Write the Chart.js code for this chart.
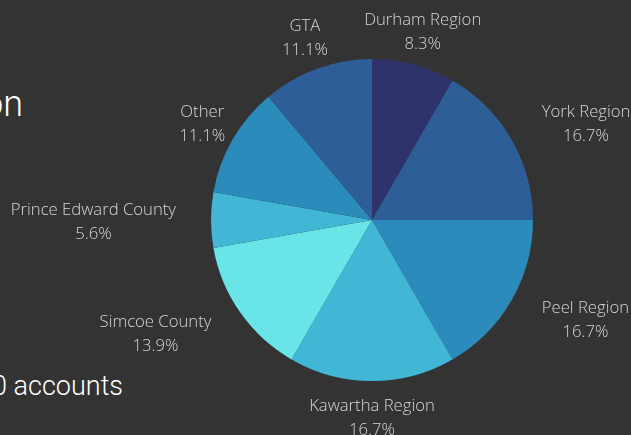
<!DOCTYPE html>
<html>
<head>
<meta charset="utf-8">
<script src="https://cdn.jsdelivr.net/npm/chart.js@4/dist/chart.umd.min.js"></script>
<style>
  html, body { margin: 0; padding: 0; background: #333333; overflow: hidden; }
  #wrap { position: relative; width: 631px; height: 435px; }
  #regionChart { position: absolute; left: 0; top: 0; }
  .heading { position: absolute; color: #ffffff; font-family: Roboto, "Open Sans", sans-serif; font-weight: 300; white-space: nowrap; line-height: 1; }
  #title { left: -17px; top: 86px; font-size: 36px; }
  #total { left: -8px; top: 373px; font-size: 27px; }
</style>
</head>
<body>
<div id="wrap">
  <div class="heading" id="title">on</div>
  <div class="heading" id="total">0 accounts</div>
  <canvas id="regionChart" width="631" height="435"></canvas>
</div>
<script>
var regions = ['Durham Region', 'York Region', 'Peel Region', 'Kawartha Region', 'Simcoe County', 'Prince Edward County', 'Other', 'GTA'];
var accounts = [3, 6, 6, 6, 5, 2, 4, 4];
var sliceColors = ['#2f336b', '#2d5e98', '#2b8bbb', '#41b6d5', '#69e5e8', '#41b6d5', '#2b8bbb', '#2d5e98'];

// name + percentage outside each slice; wide labels that would cut into
// the pie hang off the anchor point instead of being centred on it
var outsideLabels = {
    id: 'outsideLabels',
    afterDatasetsDraw: function (chart) {
        var ctx = chart.ctx;
        var meta = chart.getDatasetMeta(0);
        var data = chart.data.datasets[0].data;
        var total = data.reduce(function (a, b) { return a + b; }, 0);
        ctx.save();
        ctx.font = '300 16.7px "Open Sans", sans-serif';
        ctx.fillStyle = '#d6d6d6';
        ctx.textBaseline = 'middle';
        ctx.textAlign = 'center';
        meta.data.forEach(function (arc, i) {
            var p = arc.getProps(['x', 'y', 'startAngle', 'endAngle', 'outerRadius'], true);
            var mid = (p.startAngle + p.endAngle) / 2;
            var dist = p.outerRadius + 35;
            var ax = p.x + Math.cos(mid) * dist;
            var ay = p.y + Math.sin(mid) * dist + 2;
            var lines = [chart.data.labels[i], (data[i] / total * 100).toFixed(1) + '%'];
            var w = Math.max(ctx.measureText(lines[0]).width, ctx.measureText(lines[1]).width);
            var halfH = 20;
            // nearest point of a centred box to the pie centre
            var nx = Math.max(ax - w / 2, Math.min(p.x, ax + w / 2));
            var ny = Math.max(ay - halfH, Math.min(p.y, ay + halfH));
            var near = Math.hypot(nx - p.x, ny - p.y);
            var cx = ax;
            if (near < p.outerRadius) {
                cx = Math.cos(mid) >= 0 ? ax + w / 2 : ax - w / 2;
            }
            ctx.fillText(lines[0], cx, ay - 12);
            ctx.fillText(lines[1], cx, ay + 12);
        });
        ctx.restore();
    }
};

var ctx = document.getElementById('regionChart').getContext('2d');
var regionChart = new Chart(ctx, {
    type: 'pie',
    data: {
        labels: regions,
        datasets: [{
            data: accounts,
            backgroundColor: sliceColors,
            borderWidth: 0
        }]
    },
    options: {
        responsive: false,
        animation: false,
        layout: {
            padding: { left: 211, right: 98, top: 59, bottom: 54 }
        },
        plugins: {
            legend: { display: false },
            tooltip: { enabled: false }
        }
    },
    plugins: [outsideLabels]
});
</script>
</body>
</html>
